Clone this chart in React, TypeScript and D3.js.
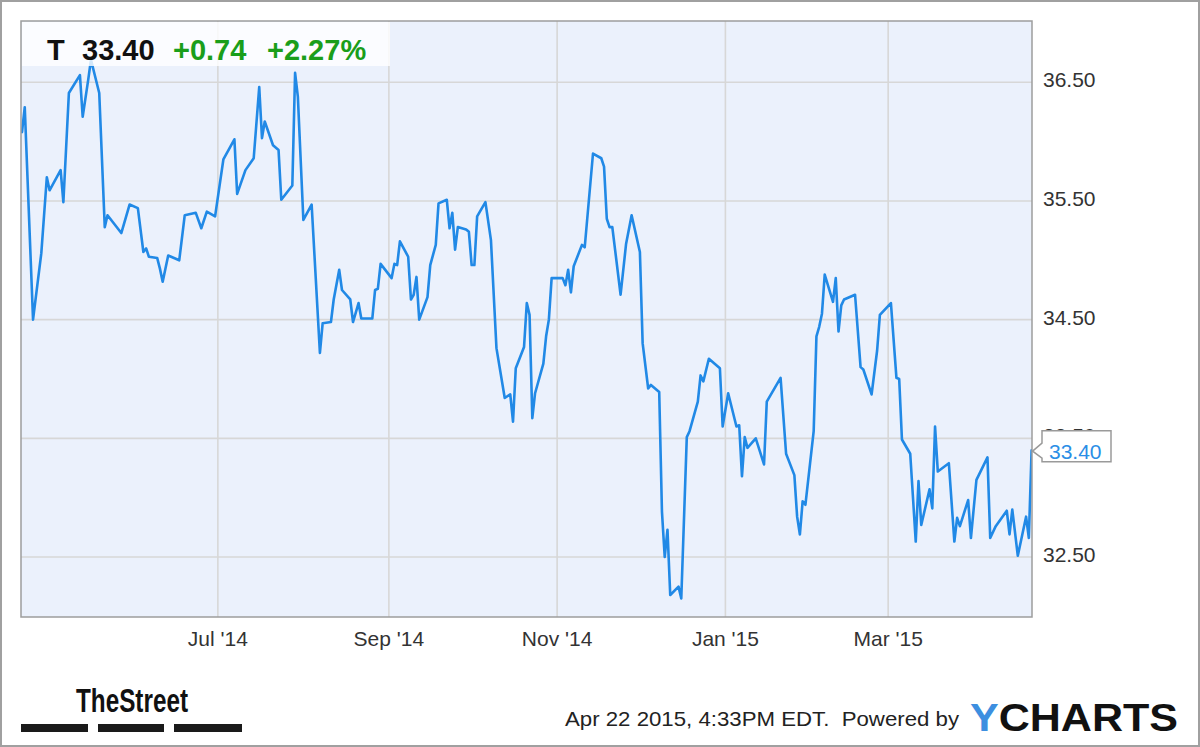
import React from 'react';
import * as d3 from 'd3';

const ticker = 'T';
const lastPriceLabel = '33.40';
const changeLabel = '+0.74';
const changePctLabel = '+2.27%';
const footerText = 'Apr 22 2015, 4:33PM EDT.  Powered by';

const xTickDates = ['2014-07-01', '2014-09-01', '2014-11-01', '2015-01-01', '2015-03-01'];
const xTickLabels = ["Jul '14", "Sep '14", "Nov '14", "Jan '15", "Mar '15"];
const yTicks = [32.5, 33.5, 34.5, 35.5, 36.5];

const dates = [
  '2014-04-21', '2014-04-22', '2014-04-25', '2014-04-28', '2014-04-30', '2014-05-01', '2014-05-05', '2014-05-06',
  '2014-05-08', '2014-05-12', '2014-05-13', '2014-05-15', '2014-05-16', '2014-05-19', '2014-05-21', '2014-05-22',
  '2014-05-27', '2014-05-30', '2014-06-02', '2014-06-04', '2014-06-05', '2014-06-06', '2014-06-09', '2014-06-10',
  '2014-06-11', '2014-06-13', '2014-06-17', '2014-06-19', '2014-06-23', '2014-06-25', '2014-06-27', '2014-06-30',
  '2014-07-03', '2014-07-07', '2014-07-08', '2014-07-11', '2014-07-14', '2014-07-16', '2014-07-17', '2014-07-18',
  '2014-07-21', '2014-07-23', '2014-07-24', '2014-07-28', '2014-07-29', '2014-07-30', '2014-08-01', '2014-08-04',
  '2014-08-07', '2014-08-08', '2014-08-11', '2014-08-12', '2014-08-14', '2014-08-15', '2014-08-18', '2014-08-19',
  '2014-08-21', '2014-08-22', '2014-08-26', '2014-08-27', '2014-08-28', '2014-08-29', '2014-09-02', '2014-09-03',
  '2014-09-04', '2014-09-05', '2014-09-08', '2014-09-09', '2014-09-10', '2014-09-11', '2014-09-12', '2014-09-15',
  '2014-09-16', '2014-09-18', '2014-09-19', '2014-09-22', '2014-09-23', '2014-09-24', '2014-09-25', '2014-09-26',
  '2014-09-29', '2014-09-30', '2014-10-01', '2014-10-02', '2014-10-03', '2014-10-06', '2014-10-08', '2014-10-10',
  '2014-10-13', '2014-10-15', '2014-10-16', '2014-10-17', '2014-10-20', '2014-10-21', '2014-10-22', '2014-10-23',
  '2014-10-24', '2014-10-27', '2014-10-28', '2014-10-29', '2014-10-30', '2014-10-31', '2014-11-03', '2014-11-04',
  '2014-11-05', '2014-11-06', '2014-11-07', '2014-11-10', '2014-11-11', '2014-11-14', '2014-11-17', '2014-11-18',
  '2014-11-19', '2014-11-20', '2014-11-21', '2014-11-24', '2014-11-26', '2014-11-28', '2014-12-01', '2014-12-02',
  '2014-12-04', '2014-12-05', '2014-12-08', '2014-12-09', '2014-12-10', '2014-12-11', '2014-12-12', '2014-12-15',
  '2014-12-16', '2014-12-18', '2014-12-19', '2014-12-22', '2014-12-23', '2014-12-24', '2014-12-26', '2014-12-30',
  '2014-12-31', '2015-01-02', '2015-01-05', '2015-01-06', '2015-01-07', '2015-01-08', '2015-01-09', '2015-01-12',
  '2015-01-15', '2015-01-16', '2015-01-21', '2015-01-23', '2015-01-26', '2015-01-27', '2015-01-28', '2015-01-29',
  '2015-01-30', '2015-02-02', '2015-02-03', '2015-02-04', '2015-02-05', '2015-02-06', '2015-02-09', '2015-02-10',
  '2015-02-11', '2015-02-12', '2015-02-13', '2015-02-17', '2015-02-19', '2015-02-20', '2015-02-23', '2015-02-25',
  '2015-02-26', '2015-03-02', '2015-03-04', '2015-03-05', '2015-03-06', '2015-03-09', '2015-03-11', '2015-03-12',
  '2015-03-13', '2015-03-16', '2015-03-17', '2015-03-18', '2015-03-19', '2015-03-23', '2015-03-25', '2015-03-26',
  '2015-03-27', '2015-03-30', '2015-03-31', '2015-04-02', '2015-04-06', '2015-04-07', '2015-04-09', '2015-04-13',
  '2015-04-14', '2015-04-15', '2015-04-17', '2015-04-20', '2015-04-21', '2015-04-22',
];

const prices = [
  36.08, 36.29, 34.50, 35.06, 35.70, 35.59, 35.76, 35.49,
  36.41, 36.56, 36.21, 36.52, 36.69, 36.41, 35.28, 35.38,
  35.23, 35.47, 35.44, 35.07, 35.10, 35.03, 35.02, 34.93,
  34.82, 35.04, 35.00, 35.38, 35.40, 35.27, 35.41, 35.37,
  35.85, 36.02, 35.56, 35.76, 35.86, 36.46, 36.03, 36.17,
  35.97, 35.93, 35.51, 35.63, 36.58, 36.38, 35.34, 35.47,
  34.22, 34.47, 34.48, 34.67, 34.92, 34.75, 34.67, 34.48,
  34.64, 34.51, 34.51, 34.75, 34.76, 34.97, 34.85, 34.97,
  34.96, 35.16, 35.03, 34.67, 34.71, 34.86, 34.50, 34.69,
  34.96, 35.13, 35.48, 35.51, 35.27, 35.40, 35.09, 35.28,
  35.26, 35.24, 34.96, 34.96, 35.37, 35.49, 35.17, 34.26,
  33.84, 33.87, 33.64, 34.09, 34.27, 34.64, 34.54, 33.67,
  33.88, 34.13, 34.36, 34.50, 34.85, 34.85, 34.85, 34.79,
  34.92, 34.73, 34.95, 35.13, 35.11, 35.90, 35.86, 35.79,
  35.35, 35.28, 35.28, 34.71, 35.14, 35.38, 35.07, 34.30,
  33.92, 33.95, 33.89, 32.88, 32.50, 32.73, 32.18, 32.25,
  32.15, 33.51, 33.56, 33.81, 34.03, 33.98, 34.17, 34.09,
  33.60, 33.88, 33.60, 33.61, 33.18, 33.51, 33.42, 33.50,
  33.28, 33.81, 34.01, 33.37, 33.19, 32.84, 32.69, 32.97,
  32.94, 33.56, 34.36, 34.44, 34.55, 34.88, 34.65, 34.85,
  34.40, 34.62, 34.67, 34.71, 34.10, 34.08, 33.87, 34.24,
  34.54, 34.64, 34.01, 34.00, 33.49, 33.37, 32.63, 33.14,
  32.77, 33.07, 32.91, 33.60, 33.22, 33.29, 32.63, 32.83,
  32.76, 32.98, 32.66, 33.15, 33.34, 32.66, 32.76, 32.89,
  32.69, 32.90, 32.51, 32.84, 32.66, 33.40,
];

const FONT = "'Liberation Sans', Arial, Helvetica, sans-serif";

export default function App() {
  const W = 1200;
  const H = 747;
  const plot = { left: 21, top: 21, right: 1032, bottom: 617 };
  const parse = d3.utcParse('%Y-%m-%d');

  const x = d3
    .scaleUtc()
    .domain([parse('2014-04-21') as Date, parse('2015-04-22') as Date])
    .range([22, 1031.6]);
  const y = d3.scaleLinear().domain([32.5, 36.5]).range([557, 82.3]);

  const data = dates.map((d, i) => ({ date: parse(d) as Date, v: prices[i] }));
  const line = d3
    .line<{ date: Date; v: number }>()
    .x((d) => x(d.date))
    .y((d) => y(d.v));

  const last = data[data.length - 1];
  const lx = x(last.date);
  const ly = y(last.v);
  const tagLeft = plot.right + 10;
  const tagRight = plot.right + 79;
  const tagTop = ly - 19.5;
  const tagBottom = ly + 11.5;
  const tagPath = [
    [lx + 1, ly + 1],
    [tagLeft, ly - 7],
    [tagLeft, tagTop],
    [tagRight, tagTop],
    [tagRight, tagBottom],
    [tagLeft, tagBottom],
    [tagLeft, ly + 8],
  ]
    .map((p, i) => (i === 0 ? 'M' : 'L') + p[0] + ',' + p[1])
    .join(' ') + ' Z';

  return (
    <svg
      width={W}
      height={H}
      style={{ position: 'absolute', left: 0, top: 0, background: '#fff' }}
      fontFamily={FONT}
    >
      <rect x={1} y={1} width={W - 2} height={H - 2} fill="#fff" stroke="#a0a0a0" strokeWidth={2} />
      <defs>
        <clipPath id="plotClip">
          <rect x={plot.left} y={plot.top} width={plot.right - plot.left} height={plot.bottom - plot.top} />
        </clipPath>
      </defs>
      <rect
        x={plot.left}
        y={plot.top}
        width={plot.right - plot.left}
        height={plot.bottom - plot.top}
        fill="#ebf1fc"
      />
      {yTicks.map((t) => (
        <line key={'gy' + t} x1={plot.left} x2={plot.right} y1={y(t)} y2={y(t)} stroke="#d7d7d7" strokeWidth={1.6} />
      ))}
      {xTickDates.map((t) => {
        const xx = x(parse(t) as Date);
        return (
          <line key={'gx' + t} x1={xx} x2={xx} y1={plot.top} y2={plot.bottom} stroke="#d7d7d7" strokeWidth={1.6} />
        );
      })}
      <path
        d={line(data) || ''}
        fill="none"
        stroke="#2189e6"
        strokeWidth={2.6}
        strokeLinejoin="round"
        strokeLinecap="round"
        clipPath="url(#plotClip)"
      />
      <rect
        x={plot.left}
        y={plot.top}
        width={plot.right - plot.left}
        height={plot.bottom - plot.top}
        fill="none"
        stroke="#9d9d9d"
        strokeWidth={1.5}
      />
      {/* header box */}
      <rect x={plot.left + 1} y={plot.top + 1} width={368} height={44} fill="#ffffff" fillOpacity={0.8} />
      <text y={60} fontSize={29} fontWeight="bold">
        <tspan x={47} fill="#111">{ticker}</tspan>
        <tspan x={82} fill="#111">{lastPriceLabel}</tspan>
        <tspan x={173} fill="#1a9e1a">{changeLabel}</tspan>
        <tspan x={267} fill="#1a9e1a">{changePctLabel}</tspan>
      </text>
      {/* y axis labels */}
      {yTicks.map((t) => (
        <text key={'ly' + t} x={1043} y={y(t) + 5} fontSize={21} fill="#333">
          {d3.format('.2f')(t)}
        </text>
      ))}
      {/* x axis labels */}
      {xTickDates.map((t, i) => (
        <text
          key={'lx' + t}
          x={x(parse(t) as Date)}
          y={646}
          fontSize={21}
          fill="#333"
          textAnchor="middle"
        >
          {xTickLabels[i]}
        </text>
      ))}
      {/* last price tag */}
      <path d={tagPath} fill="#fff" stroke="#9a9a9a" strokeWidth={1.5} />
      <text x={tagLeft + 7} y={ly + 8.5} fontSize={21} fill="#2a8ee6">
        {lastPriceLabel}
      </text>
      {/* footer */}
      <text x={76} y={712} fontSize={34} fontWeight="bold" fill="#111" textLength={112} lengthAdjust="spacingAndGlyphs">
        TheStreet
      </text>
      <rect x={21} y={724} width={67} height={8} fill="#1a1a1a" />
      <rect x={98} y={724} width={66} height={8} fill="#1a1a1a" />
      <rect x={174} y={724} width={68} height={8} fill="#1a1a1a" />
      <text x={565} y={726} fontSize={21} fill="#222" textLength={394} lengthAdjust="spacingAndGlyphs" xmlSpace="preserve">
        {footerText}
      </text>
      <text x={970} y={731} fontSize={38} fontWeight="bold" textLength={208} lengthAdjust="spacingAndGlyphs">
        <tspan fill="#3d8fe0">Y</tspan>
        <tspan fill="#111">CHARTS</tspan>
      </text>
    </svg>
  );
}
